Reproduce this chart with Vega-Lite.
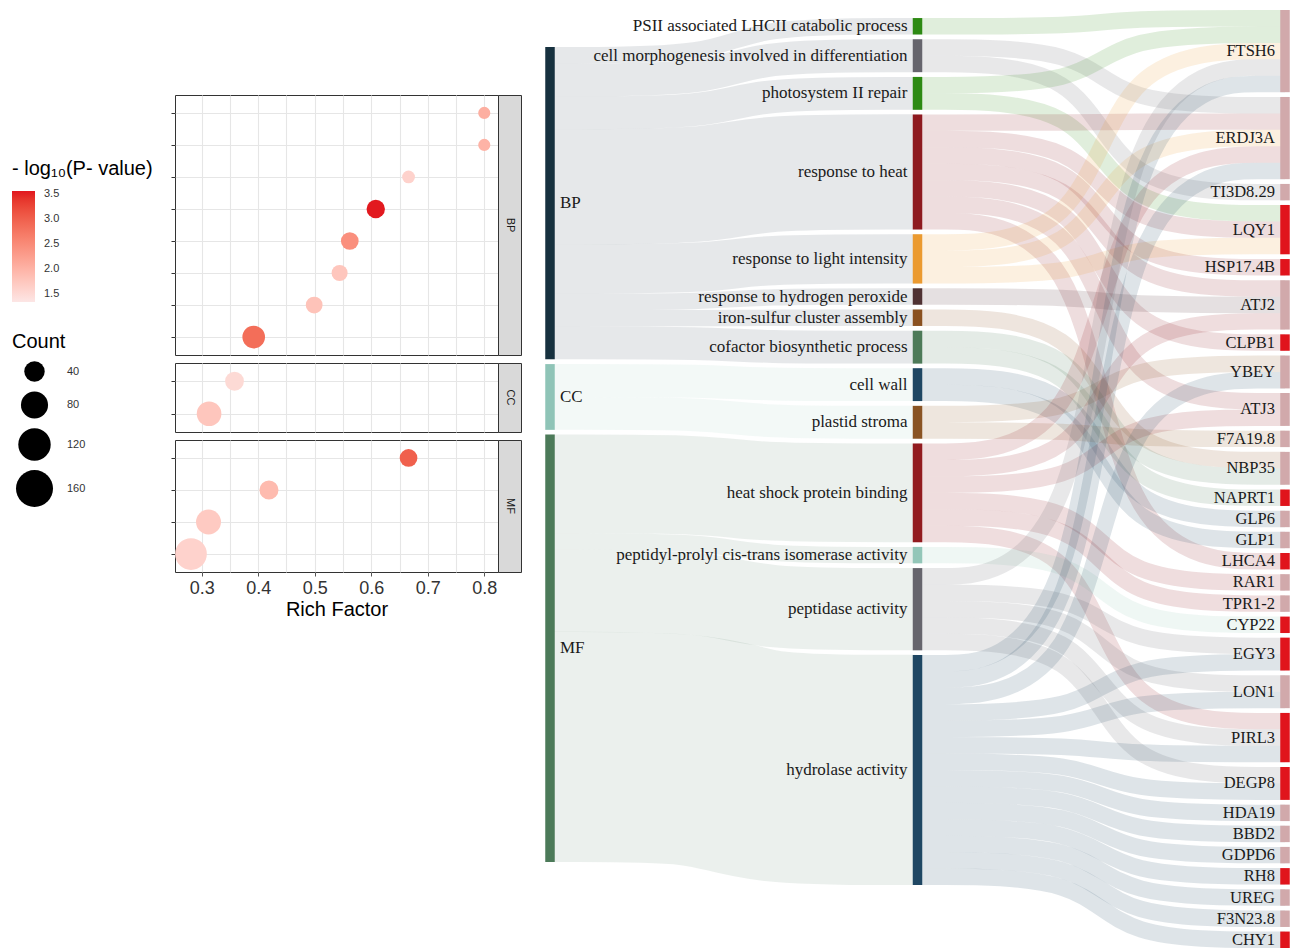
{
"$schema": "https://vega.github.io/schema/vega-lite/v6.json",
"padding": {"left": 12, "top": 10, "right": 0, "bottom": 0},
"background": "white",
"config": {"view": {"stroke": null}, "font": "Liberation Sans"},
"datasets": {
"dots": [
{"ont":"BP","term":"PSII associated LHCII catabolic process","rf":0.8,"lp":2.05,"count":6},
{"ont":"BP","term":"photosystem II repair","rf":0.8,"lp":2.0,"count":6},
{"ont":"BP","term":"iron-sulfur cluster assembly","rf":0.666,"lp":1.6,"count":8},
{"ont":"BP","term":"response to light intensity","rf":0.608,"lp":3.55,"count":30},
{"ont":"BP","term":"cell morphogenesis involved in differentiation","rf":0.562,"lp":2.45,"count":27},
{"ont":"BP","term":"response to hydrogen peroxide","rf":0.544,"lp":1.75,"count":20},
{"ont":"BP","term":"cofactor biosynthetic process","rf":0.499,"lp":1.8,"count":23},
{"ont":"BP","term":"response to heat","rf":0.392,"lp":2.85,"count":52},
{"ont":"CC","term":"plastid stroma","rf":0.358,"lp":1.5,"count":32},
{"ont":"CC","term":"cell wall","rf":0.313,"lp":1.75,"count":64},
{"ont":"MF","term":"peptidyl-prolyl cis-trans isomerase activity","rf":0.666,"lp":3.0,"count":27},
{"ont":"MF","term":"heat shock protein binding","rf":0.419,"lp":1.9,"count":33},
{"ont":"MF","term":"peptidase activity","rf":0.312,"lp":1.7,"count":66},
{"ont":"MF","term":"hydrolase activity","rf":0.281,"lp":1.6,"count":114}
],
"nodes": [
{"name":"BP","col":0,"y0":2.25,"y1":21.25,"c":"BP"},
{"name":"CC","col":0,"y0":21.54,"y1":25.54,"c":"CC"},
{"name":"MF","col":0,"y0":25.83,"y1":51.83,"c":"MF"},
{"name":"PSII associated LHCII catabolic process","col":1,"y0":0.49,"y1":1.49,"c":"psii"},
{"name":"cell morphogenesis involved in differentiation","col":1,"y0":1.78,"y1":3.78,"c":"morph"},
{"name":"photosystem II repair","col":1,"y0":4.07,"y1":6.07,"c":"rep"},
{"name":"response to heat","col":1,"y0":6.35,"y1":13.35,"c":"heat"},
{"name":"response to light intensity","col":1,"y0":13.64,"y1":16.64,"c":"light"},
{"name":"response to hydrogen peroxide","col":1,"y0":16.93,"y1":17.93,"c":"h2o2"},
{"name":"iron-sulfur cluster assembly","col":1,"y0":18.22,"y1":19.22,"c":"fes"},
{"name":"cofactor biosynthetic process","col":1,"y0":19.51,"y1":21.51,"c":"cof"},
{"name":"cell wall","col":1,"y0":21.79,"y1":23.79,"c":"wall"},
{"name":"plastid stroma","col":1,"y0":24.08,"y1":26.08,"c":"str"},
{"name":"heat shock protein binding","col":1,"y0":26.37,"y1":32.37,"c":"hsp"},
{"name":"peptidyl-prolyl cis-trans isomerase activity","col":1,"y0":32.66,"y1":33.66,"c":"ppi"},
{"name":"peptidase activity","col":1,"y0":33.95,"y1":38.95,"c":"pep"},
{"name":"hydrolase activity","col":1,"y0":39.23,"y1":53.23,"c":"hyd"},
{"name":"FTSH6","col":2,"y0":0,"y1":5,"c":"dn"},
{"name":"ERDJ3A","col":2,"y0":5.29,"y1":10.29,"c":"dn"},
{"name":"TI3D8.29","col":2,"y0":10.58,"y1":11.58,"c":"dn"},
{"name":"LQY1","col":2,"y0":11.86,"y1":14.86,"c":"up"},
{"name":"HSP17.4B","col":2,"y0":15.15,"y1":16.15,"c":"up"},
{"name":"ATJ2","col":2,"y0":16.44,"y1":19.44,"c":"dn"},
{"name":"CLPB1","col":2,"y0":19.73,"y1":20.73,"c":"up"},
{"name":"YBEY","col":2,"y0":21.02,"y1":23.02,"c":"dn"},
{"name":"ATJ3","col":2,"y0":23.3,"y1":25.3,"c":"dn"},
{"name":"F7A19.8","col":2,"y0":25.59,"y1":26.59,"c":"dn"},
{"name":"NBP35","col":2,"y0":26.88,"y1":28.88,"c":"dn"},
{"name":"NAPRT1","col":2,"y0":29.17,"y1":30.17,"c":"up"},
{"name":"GLP6","col":2,"y0":30.46,"y1":31.46,"c":"dn"},
{"name":"GLP1","col":2,"y0":31.74,"y1":32.74,"c":"dn"},
{"name":"LHCA4","col":2,"y0":33.03,"y1":34.03,"c":"up"},
{"name":"RAR1","col":2,"y0":34.32,"y1":35.32,"c":"dn"},
{"name":"TPR1-2","col":2,"y0":35.61,"y1":36.61,"c":"dn"},
{"name":"CYP22","col":2,"y0":36.9,"y1":37.9,"c":"up"},
{"name":"EGY3","col":2,"y0":38.18,"y1":40.18,"c":"up"},
{"name":"LON1","col":2,"y0":40.47,"y1":42.47,"c":"dn"},
{"name":"PIRL3","col":2,"y0":42.76,"y1":45.76,"c":"up"},
{"name":"DEGP8","col":2,"y0":46.05,"y1":48.05,"c":"up"},
{"name":"HDA19","col":2,"y0":48.34,"y1":49.34,"c":"dn"},
{"name":"BBD2","col":2,"y0":49.62,"y1":50.62,"c":"dn"},
{"name":"GDPD6","col":2,"y0":50.91,"y1":51.91,"c":"dn"},
{"name":"RH8","col":2,"y0":52.2,"y1":53.2,"c":"up"},
{"name":"UREG","col":2,"y0":53.49,"y1":54.49,"c":"dn"},
{"name":"F3N23.8","col":2,"y0":54.78,"y1":55.78,"c":"dn"},
{"name":"CHY1","col":2,"y0":56.06,"y1":57.06,"c":"up"}
],
"links": [
{"k":"a1","c":"BP","s":1,"w":1,"x":0,"y":2.75},{"k":"a1","c":"BP","s":1,"w":1,"x":0.45,"y":2.75},{"k":"a1","c":"BP","s":1,"w":1,"x":0.55,"y":0.99},{"k":"a1","c":"BP","s":1,"w":1,"x":1,"y":0.99},
{"k":"a2","c":"BP","s":1,"w":2,"x":0,"y":4.25},{"k":"a2","c":"BP","s":1,"w":2,"x":0.45,"y":4.25},{"k":"a2","c":"BP","s":1,"w":2,"x":0.55,"y":2.78},{"k":"a2","c":"BP","s":1,"w":2,"x":1,"y":2.78},
{"k":"a3","c":"BP","s":1,"w":2,"x":0,"y":6.25},{"k":"a3","c":"BP","s":1,"w":2,"x":0.45,"y":6.25},{"k":"a3","c":"BP","s":1,"w":2,"x":0.55,"y":5.07},{"k":"a3","c":"BP","s":1,"w":2,"x":1,"y":5.07},
{"k":"a4","c":"BP","s":1,"w":7,"x":0,"y":10.75},{"k":"a4","c":"BP","s":1,"w":7,"x":0.45,"y":10.75},{"k":"a4","c":"BP","s":1,"w":7,"x":0.55,"y":9.85},{"k":"a4","c":"BP","s":1,"w":7,"x":1,"y":9.85},
{"k":"a5","c":"BP","s":1,"w":3,"x":0,"y":15.75},{"k":"a5","c":"BP","s":1,"w":3,"x":0.45,"y":15.75},{"k":"a5","c":"BP","s":1,"w":3,"x":0.55,"y":15.14},{"k":"a5","c":"BP","s":1,"w":3,"x":1,"y":15.14},
{"k":"a6","c":"BP","s":1,"w":1,"x":0,"y":17.75},{"k":"a6","c":"BP","s":1,"w":1,"x":0.45,"y":17.75},{"k":"a6","c":"BP","s":1,"w":1,"x":0.55,"y":17.43},{"k":"a6","c":"BP","s":1,"w":1,"x":1,"y":17.43},
{"k":"a7","c":"BP","s":1,"w":1,"x":0,"y":18.75},{"k":"a7","c":"BP","s":1,"w":1,"x":0.45,"y":18.75},{"k":"a7","c":"BP","s":1,"w":1,"x":0.55,"y":18.72},{"k":"a7","c":"BP","s":1,"w":1,"x":1,"y":18.72},
{"k":"a8","c":"BP","s":1,"w":2,"x":0,"y":20.25},{"k":"a8","c":"BP","s":1,"w":2,"x":0.45,"y":20.25},{"k":"a8","c":"BP","s":1,"w":2,"x":0.55,"y":20.51},{"k":"a8","c":"BP","s":1,"w":2,"x":1,"y":20.51},
{"k":"a9","c":"CC","s":1,"w":2,"x":0,"y":22.54},{"k":"a9","c":"CC","s":1,"w":2,"x":0.45,"y":22.54},{"k":"a9","c":"CC","s":1,"w":2,"x":0.55,"y":22.79},{"k":"a9","c":"CC","s":1,"w":2,"x":1,"y":22.79},
{"k":"a10","c":"CC","s":1,"w":2,"x":0,"y":24.54},{"k":"a10","c":"CC","s":1,"w":2,"x":0.45,"y":24.54},{"k":"a10","c":"CC","s":1,"w":2,"x":0.55,"y":25.08},{"k":"a10","c":"CC","s":1,"w":2,"x":1,"y":25.08},
{"k":"a11","c":"MF","s":1,"w":6,"x":0,"y":28.83},{"k":"a11","c":"MF","s":1,"w":6,"x":0.45,"y":28.83},{"k":"a11","c":"MF","s":1,"w":6,"x":0.55,"y":29.37},{"k":"a11","c":"MF","s":1,"w":6,"x":1,"y":29.37},
{"k":"a12","c":"MF","s":1,"w":1,"x":0,"y":32.33},{"k":"a12","c":"MF","s":1,"w":1,"x":0.45,"y":32.33},{"k":"a12","c":"MF","s":1,"w":1,"x":0.55,"y":33.16},{"k":"a12","c":"MF","s":1,"w":1,"x":1,"y":33.16},
{"k":"a13","c":"MF","s":1,"w":5,"x":0,"y":35.33},{"k":"a13","c":"MF","s":1,"w":5,"x":0.45,"y":35.33},{"k":"a13","c":"MF","s":1,"w":5,"x":0.55,"y":36.45},{"k":"a13","c":"MF","s":1,"w":5,"x":1,"y":36.45},
{"k":"a14","c":"MF","s":1,"w":14,"x":0,"y":44.83},{"k":"a14","c":"MF","s":1,"w":14,"x":0.45,"y":44.83},{"k":"a14","c":"MF","s":1,"w":14,"x":0.55,"y":46.23},{"k":"a14","c":"MF","s":1,"w":14,"x":1,"y":46.23},
{"k":"b1","c":"psii","s":2,"w":1,"x":1,"y":0.99},{"k":"b1","c":"psii","s":2,"w":1,"x":1.45,"y":0.99},{"k":"b1","c":"psii","s":2,"w":1,"x":1.55,"y":0.5},{"k":"b1","c":"psii","s":2,"w":1,"x":2,"y":0.5},
{"k":"b2","c":"morph","s":2,"w":1,"x":1,"y":2.28},{"k":"b2","c":"morph","s":2,"w":1,"x":1.45,"y":2.28},{"k":"b2","c":"morph","s":2,"w":1,"x":1.55,"y":5.79},{"k":"b2","c":"morph","s":2,"w":1,"x":2,"y":5.79},
{"k":"b3","c":"morph","s":2,"w":1,"x":1,"y":3.28},{"k":"b3","c":"morph","s":2,"w":1,"x":1.45,"y":3.28},{"k":"b3","c":"morph","s":2,"w":1,"x":1.55,"y":11.08},{"k":"b3","c":"morph","s":2,"w":1,"x":2,"y":11.08},
{"k":"b4","c":"rep","s":2,"w":1,"x":1,"y":4.57},{"k":"b4","c":"rep","s":2,"w":1,"x":1.45,"y":4.57},{"k":"b4","c":"rep","s":2,"w":1,"x":1.55,"y":1.5},{"k":"b4","c":"rep","s":2,"w":1,"x":2,"y":1.5},
{"k":"b5","c":"rep","s":2,"w":1,"x":1,"y":5.57},{"k":"b5","c":"rep","s":2,"w":1,"x":1.45,"y":5.57},{"k":"b5","c":"rep","s":2,"w":1,"x":1.55,"y":12.36},{"k":"b5","c":"rep","s":2,"w":1,"x":2,"y":12.36},
{"k":"b6","c":"heat","s":2,"w":1,"x":1,"y":6.85},{"k":"b6","c":"heat","s":2,"w":1,"x":1.45,"y":6.85},{"k":"b6","c":"heat","s":2,"w":1,"x":1.55,"y":6.79},{"k":"b6","c":"heat","s":2,"w":1,"x":2,"y":6.79},
{"k":"b7","c":"heat","s":2,"w":1,"x":1,"y":7.85},{"k":"b7","c":"heat","s":2,"w":1,"x":1.45,"y":7.85},{"k":"b7","c":"heat","s":2,"w":1,"x":1.55,"y":13.36},{"k":"b7","c":"heat","s":2,"w":1,"x":2,"y":13.36},
{"k":"b8","c":"heat","s":2,"w":1,"x":1,"y":8.85},{"k":"b8","c":"heat","s":2,"w":1,"x":1.45,"y":8.85},{"k":"b8","c":"heat","s":2,"w":1,"x":1.55,"y":15.65},{"k":"b8","c":"heat","s":2,"w":1,"x":2,"y":15.65},
{"k":"b9","c":"heat","s":2,"w":1,"x":1,"y":9.85},{"k":"b9","c":"heat","s":2,"w":1,"x":1.45,"y":9.85},{"k":"b9","c":"heat","s":2,"w":1,"x":1.55,"y":16.94},{"k":"b9","c":"heat","s":2,"w":1,"x":2,"y":16.94},
{"k":"b10","c":"heat","s":2,"w":1,"x":1,"y":10.85},{"k":"b10","c":"heat","s":2,"w":1,"x":1.45,"y":10.85},{"k":"b10","c":"heat","s":2,"w":1,"x":1.55,"y":20.23},{"k":"b10","c":"heat","s":2,"w":1,"x":2,"y":20.23},
{"k":"b11","c":"heat","s":2,"w":1,"x":1,"y":11.85},{"k":"b11","c":"heat","s":2,"w":1,"x":1.45,"y":11.85},{"k":"b11","c":"heat","s":2,"w":1,"x":1.55,"y":23.8},{"k":"b11","c":"heat","s":2,"w":1,"x":2,"y":23.8},
{"k":"b12","c":"heat","s":2,"w":1,"x":1,"y":12.85},{"k":"b12","c":"heat","s":2,"w":1,"x":1.45,"y":12.85},{"k":"b12","c":"heat","s":2,"w":1,"x":1.55,"y":33.53},{"k":"b12","c":"heat","s":2,"w":1,"x":2,"y":33.53},
{"k":"b13","c":"light","s":2,"w":1,"x":1,"y":14.14},{"k":"b13","c":"light","s":2,"w":1,"x":1.45,"y":14.14},{"k":"b13","c":"light","s":2,"w":1,"x":1.55,"y":2.5},{"k":"b13","c":"light","s":2,"w":1,"x":2,"y":2.5},
{"k":"b14","c":"light","s":2,"w":1,"x":1,"y":15.14},{"k":"b14","c":"light","s":2,"w":1,"x":1.45,"y":15.14},{"k":"b14","c":"light","s":2,"w":1,"x":1.55,"y":7.79},{"k":"b14","c":"light","s":2,"w":1,"x":2,"y":7.79},
{"k":"b15","c":"light","s":2,"w":1,"x":1,"y":16.14},{"k":"b15","c":"light","s":2,"w":1,"x":1.45,"y":16.14},{"k":"b15","c":"light","s":2,"w":1,"x":1.55,"y":14.36},{"k":"b15","c":"light","s":2,"w":1,"x":2,"y":14.36},
{"k":"b16","c":"h2o2","s":2,"w":1,"x":1,"y":17.43},{"k":"b16","c":"h2o2","s":2,"w":1,"x":1.45,"y":17.43},{"k":"b16","c":"h2o2","s":2,"w":1,"x":1.55,"y":17.94},{"k":"b16","c":"h2o2","s":2,"w":1,"x":2,"y":17.94},
{"k":"b17","c":"fes","s":2,"w":1,"x":1,"y":18.72},{"k":"b17","c":"fes","s":2,"w":1,"x":1.45,"y":18.72},{"k":"b17","c":"fes","s":2,"w":1,"x":1.55,"y":27.38},{"k":"b17","c":"fes","s":2,"w":1,"x":2,"y":27.38},
{"k":"b18","c":"cof","s":2,"w":1,"x":1,"y":20.01},{"k":"b18","c":"cof","s":2,"w":1,"x":1.45,"y":20.01},{"k":"b18","c":"cof","s":2,"w":1,"x":1.55,"y":28.38},{"k":"b18","c":"cof","s":2,"w":1,"x":2,"y":28.38},
{"k":"b19","c":"cof","s":2,"w":1,"x":1,"y":21.01},{"k":"b19","c":"cof","s":2,"w":1,"x":1.45,"y":21.01},{"k":"b19","c":"cof","s":2,"w":1,"x":1.55,"y":29.67},{"k":"b19","c":"cof","s":2,"w":1,"x":2,"y":29.67},
{"k":"b20","c":"wall","s":2,"w":1,"x":1,"y":22.29},{"k":"b20","c":"wall","s":2,"w":1,"x":1.45,"y":22.29},{"k":"b20","c":"wall","s":2,"w":1,"x":1.55,"y":30.96},{"k":"b20","c":"wall","s":2,"w":1,"x":2,"y":30.96},
{"k":"b21","c":"wall","s":2,"w":1,"x":1,"y":23.29},{"k":"b21","c":"wall","s":2,"w":1,"x":1.45,"y":23.29},{"k":"b21","c":"wall","s":2,"w":1,"x":1.55,"y":32.24},{"k":"b21","c":"wall","s":2,"w":1,"x":2,"y":32.24},
{"k":"b22","c":"str","s":2,"w":1,"x":1,"y":24.58},{"k":"b22","c":"str","s":2,"w":1,"x":1.45,"y":24.58},{"k":"b22","c":"str","s":2,"w":1,"x":1.55,"y":21.52},{"k":"b22","c":"str","s":2,"w":1,"x":2,"y":21.52},
{"k":"b23","c":"str","s":2,"w":1,"x":1,"y":25.58},{"k":"b23","c":"str","s":2,"w":1,"x":1.45,"y":25.58},{"k":"b23","c":"str","s":2,"w":1,"x":1.55,"y":26.09},{"k":"b23","c":"str","s":2,"w":1,"x":2,"y":26.09},
{"k":"b24","c":"hsp","s":2,"w":1,"x":1,"y":26.87},{"k":"b24","c":"hsp","s":2,"w":1,"x":1.45,"y":26.87},{"k":"b24","c":"hsp","s":2,"w":1,"x":1.55,"y":8.79},{"k":"b24","c":"hsp","s":2,"w":1,"x":2,"y":8.79},
{"k":"b25","c":"hsp","s":2,"w":1,"x":1,"y":27.87},{"k":"b25","c":"hsp","s":2,"w":1,"x":1.45,"y":27.87},{"k":"b25","c":"hsp","s":2,"w":1,"x":1.55,"y":18.94},{"k":"b25","c":"hsp","s":2,"w":1,"x":2,"y":18.94},
{"k":"b26","c":"hsp","s":2,"w":1,"x":1,"y":28.87},{"k":"b26","c":"hsp","s":2,"w":1,"x":1.45,"y":28.87},{"k":"b26","c":"hsp","s":2,"w":1,"x":1.55,"y":24.8},{"k":"b26","c":"hsp","s":2,"w":1,"x":2,"y":24.8},
{"k":"b27","c":"hsp","s":2,"w":1,"x":1,"y":29.87},{"k":"b27","c":"hsp","s":2,"w":1,"x":1.45,"y":29.87},{"k":"b27","c":"hsp","s":2,"w":1,"x":1.55,"y":34.82},{"k":"b27","c":"hsp","s":2,"w":1,"x":2,"y":34.82},
{"k":"b28","c":"hsp","s":2,"w":1,"x":1,"y":30.87},{"k":"b28","c":"hsp","s":2,"w":1,"x":1.45,"y":30.87},{"k":"b28","c":"hsp","s":2,"w":1,"x":1.55,"y":36.11},{"k":"b28","c":"hsp","s":2,"w":1,"x":2,"y":36.11},
{"k":"b29","c":"hsp","s":2,"w":1,"x":1,"y":31.87},{"k":"b29","c":"hsp","s":2,"w":1,"x":1.45,"y":31.87},{"k":"b29","c":"hsp","s":2,"w":1,"x":1.55,"y":43.26},{"k":"b29","c":"hsp","s":2,"w":1,"x":2,"y":43.26},
{"k":"b30","c":"ppi","s":2,"w":1,"x":1,"y":33.16},{"k":"b30","c":"ppi","s":2,"w":1,"x":1.45,"y":33.16},{"k":"b30","c":"ppi","s":2,"w":1,"x":1.55,"y":37.4},{"k":"b30","c":"ppi","s":2,"w":1,"x":2,"y":37.4},
{"k":"b31","c":"pep","s":2,"w":1,"x":1,"y":34.45},{"k":"b31","c":"pep","s":2,"w":1,"x":1.45,"y":34.45},{"k":"b31","c":"pep","s":2,"w":1,"x":1.55,"y":3.5},{"k":"b31","c":"pep","s":2,"w":1,"x":2,"y":3.5},
{"k":"b32","c":"pep","s":2,"w":1,"x":1,"y":35.45},{"k":"b32","c":"pep","s":2,"w":1,"x":1.45,"y":35.45},{"k":"b32","c":"pep","s":2,"w":1,"x":1.55,"y":38.68},{"k":"b32","c":"pep","s":2,"w":1,"x":2,"y":38.68},
{"k":"b33","c":"pep","s":2,"w":1,"x":1,"y":36.45},{"k":"b33","c":"pep","s":2,"w":1,"x":1.45,"y":36.45},{"k":"b33","c":"pep","s":2,"w":1,"x":1.55,"y":40.97},{"k":"b33","c":"pep","s":2,"w":1,"x":2,"y":40.97},
{"k":"b34","c":"pep","s":2,"w":1,"x":1,"y":37.45},{"k":"b34","c":"pep","s":2,"w":1,"x":1.45,"y":37.45},{"k":"b34","c":"pep","s":2,"w":1,"x":1.55,"y":44.26},{"k":"b34","c":"pep","s":2,"w":1,"x":2,"y":44.26},
{"k":"b35","c":"pep","s":2,"w":1,"x":1,"y":38.45},{"k":"b35","c":"pep","s":2,"w":1,"x":1.45,"y":38.45},{"k":"b35","c":"pep","s":2,"w":1,"x":1.55,"y":46.55},{"k":"b35","c":"pep","s":2,"w":1,"x":2,"y":46.55},
{"k":"b36","c":"hyd","s":2,"w":1,"x":1,"y":39.73},{"k":"b36","c":"hyd","s":2,"w":1,"x":1.45,"y":39.73},{"k":"b36","c":"hyd","s":2,"w":1,"x":1.55,"y":4.5},{"k":"b36","c":"hyd","s":2,"w":1,"x":2,"y":4.5},
{"k":"b37","c":"hyd","s":2,"w":1,"x":1,"y":40.73},{"k":"b37","c":"hyd","s":2,"w":1,"x":1.45,"y":40.73},{"k":"b37","c":"hyd","s":2,"w":1,"x":1.55,"y":9.79},{"k":"b37","c":"hyd","s":2,"w":1,"x":2,"y":9.79},
{"k":"b38","c":"hyd","s":2,"w":1,"x":1,"y":41.73},{"k":"b38","c":"hyd","s":2,"w":1,"x":1.45,"y":41.73},{"k":"b38","c":"hyd","s":2,"w":1,"x":1.55,"y":22.52},{"k":"b38","c":"hyd","s":2,"w":1,"x":2,"y":22.52},
{"k":"b39","c":"hyd","s":2,"w":1,"x":1,"y":42.73},{"k":"b39","c":"hyd","s":2,"w":1,"x":1.45,"y":42.73},{"k":"b39","c":"hyd","s":2,"w":1,"x":1.55,"y":39.68},{"k":"b39","c":"hyd","s":2,"w":1,"x":2,"y":39.68},
{"k":"b40","c":"hyd","s":2,"w":1,"x":1,"y":43.73},{"k":"b40","c":"hyd","s":2,"w":1,"x":1.45,"y":43.73},{"k":"b40","c":"hyd","s":2,"w":1,"x":1.55,"y":41.97},{"k":"b40","c":"hyd","s":2,"w":1,"x":2,"y":41.97},
{"k":"b41","c":"hyd","s":2,"w":1,"x":1,"y":44.73},{"k":"b41","c":"hyd","s":2,"w":1,"x":1.45,"y":44.73},{"k":"b41","c":"hyd","s":2,"w":1,"x":1.55,"y":45.26},{"k":"b41","c":"hyd","s":2,"w":1,"x":2,"y":45.26},
{"k":"b42","c":"hyd","s":2,"w":1,"x":1,"y":45.73},{"k":"b42","c":"hyd","s":2,"w":1,"x":1.45,"y":45.73},{"k":"b42","c":"hyd","s":2,"w":1,"x":1.55,"y":47.55},{"k":"b42","c":"hyd","s":2,"w":1,"x":2,"y":47.55},
{"k":"b43","c":"hyd","s":2,"w":1,"x":1,"y":46.73},{"k":"b43","c":"hyd","s":2,"w":1,"x":1.45,"y":46.73},{"k":"b43","c":"hyd","s":2,"w":1,"x":1.55,"y":48.84},{"k":"b43","c":"hyd","s":2,"w":1,"x":2,"y":48.84},
{"k":"b44","c":"hyd","s":2,"w":1,"x":1,"y":47.73},{"k":"b44","c":"hyd","s":2,"w":1,"x":1.45,"y":47.73},{"k":"b44","c":"hyd","s":2,"w":1,"x":1.55,"y":50.12},{"k":"b44","c":"hyd","s":2,"w":1,"x":2,"y":50.12},
{"k":"b45","c":"hyd","s":2,"w":1,"x":1,"y":48.73},{"k":"b45","c":"hyd","s":2,"w":1,"x":1.45,"y":48.73},{"k":"b45","c":"hyd","s":2,"w":1,"x":1.55,"y":51.41},{"k":"b45","c":"hyd","s":2,"w":1,"x":2,"y":51.41},
{"k":"b46","c":"hyd","s":2,"w":1,"x":1,"y":49.73},{"k":"b46","c":"hyd","s":2,"w":1,"x":1.45,"y":49.73},{"k":"b46","c":"hyd","s":2,"w":1,"x":1.55,"y":52.7},{"k":"b46","c":"hyd","s":2,"w":1,"x":2,"y":52.7},
{"k":"b47","c":"hyd","s":2,"w":1,"x":1,"y":50.73},{"k":"b47","c":"hyd","s":2,"w":1,"x":1.45,"y":50.73},{"k":"b47","c":"hyd","s":2,"w":1,"x":1.55,"y":53.99},{"k":"b47","c":"hyd","s":2,"w":1,"x":2,"y":53.99},
{"k":"b48","c":"hyd","s":2,"w":1,"x":1,"y":51.73},{"k":"b48","c":"hyd","s":2,"w":1,"x":1.45,"y":51.73},{"k":"b48","c":"hyd","s":2,"w":1,"x":1.55,"y":55.28},{"k":"b48","c":"hyd","s":2,"w":1,"x":2,"y":55.28},
{"k":"b49","c":"hyd","s":2,"w":1,"x":1,"y":52.73},{"k":"b49","c":"hyd","s":2,"w":1,"x":1.45,"y":52.73},{"k":"b49","c":"hyd","s":2,"w":1,"x":1.55,"y":56.56},{"k":"b49","c":"hyd","s":2,"w":1,"x":2,"y":56.56}
]
},
"hconcat": [
{
"vconcat": [
{"width": 323, "height": 78, "data": {"values": []}, "mark": "point"},
{"hconcat": [
{"width": 323, "height": 260, "view": {"stroke": "#333333", "fill": "white"},
"data": {"name": "dots"}, "transform": [{"filter": "datum.ont === 'BP'"}],
"mark": {"type": "circle", "opacity": 1},
"encoding": {
"x": {"field": "rf", "type": "quantitative", "scale": {"domain": [0.2527, 0.8243], "nice": false, "zero": false},
"axis": {"values": [0.3,0.35,0.4,0.45,0.5,0.55,0.6,0.65,0.7,0.75,0.8], "labels": false, "ticks": false, "domain": false, "title": null, "grid": true, "gridColor": "#e6e6e6", "gridWidth": 1.1}},
"y": {"field": "term", "type": "nominal", "sort": ["PSII associated LHCII catabolic process","photosystem II repair","iron-sulfur cluster assembly","response to light intensity","cell morphogenesis involved in differentiation","response to hydrogen peroxide","cofactor biosynthetic process","response to heat"],
"scale": {"type": "point", "padding": 0.56},
"axis": {"labels": false, "title": null, "domain": false, "tickSize": 4, "tickColor": "#333333", "grid": true, "gridColor": "#e6e6e6", "gridWidth": 1.1}},
"size": {"field": "count", "type": "quantitative", "scale": {"domain": [0, 160], "range": [100, 1369]},
"legend": {"orient": "none", "legendX": -163, "legendY": 322, "title": "Count", "titleFontSize": 20, "titleFontWeight": "normal", "titleColor": "black", "titleFont": "Liberation Sans", "titlePadding": 9, "values": [40, 80, 120, 160], "symbolFillColor": "black", "symbolStrokeWidth": 0, "symbolOpacity": 1, "labelFontSize": 11, "labelColor": "#333333", "labelOffset": 14, "rowPadding": 9, "symbolOffset": 4}},
"color": {"field": "lp", "type": "quantitative", "scale": {"domain": [1.34, 3.56], "range": ["#fce6e5", "#e2161e"], "interpolate": "lab"},
"legend": {"orient": "none", "legendX": -163, "legendY": 149, "title": "- log₁₀(P- value)", "titleFontSize": 20, "titleFontWeight": "normal", "titleColor": "black", "titleFont": "Liberation Sans", "titlePadding": 12, "values": [1.5, 2, 2.5, 3, 3.5], "format": ".1f", "gradientLength": 111, "gradientThickness": 23, "gradientStrokeWidth": 0, "labelFontSize": 11, "labelColor": "#333333", "labelOffset": 9}}
}},
{"width": 23, "height": 260, "view": {"stroke": "#333333", "fill": "#d9d9d9"}, "data": {"values": [{"lab": "BP"}]},
"mark": {"type": "text", "angle": 90, "fontSize": 11, "color": "#1a1a1a", "font": "Liberation Sans"},
"encoding": {"text": {"field": "lab"}}}
], "spacing": 0, "bounds": "flush"},
{"hconcat": [
{"width": 323, "height": 69, "view": {"stroke": "#333333", "fill": "white"},
"data": {"name": "dots"}, "transform": [{"filter": "datum.ont === 'CC'"}],
"mark": {"type": "circle", "opacity": 1},
"encoding": {
"x": {"field": "rf", "type": "quantitative", "scale": {"domain": [0.2527, 0.8243], "nice": false, "zero": false},
"axis": {"values": [0.3,0.35,0.4,0.45,0.5,0.55,0.6,0.65,0.7,0.75,0.8], "labels": false, "ticks": false, "domain": false, "title": null, "grid": true, "gridColor": "#e6e6e6", "gridWidth": 1.1}},
"y": {"field": "term", "type": "nominal", "sort": ["plastid stroma","cell wall"],
"scale": {"type": "point", "padding": 0.56},
"axis": {"labels": false, "title": null, "domain": false, "tickSize": 4, "tickColor": "#333333", "grid": true, "gridColor": "#e6e6e6", "gridWidth": 1.1}},
"size": {"field": "count", "type": "quantitative", "scale": {"domain": [0, 160], "range": [100, 1369]}},
"color": {"field": "lp", "type": "quantitative", "scale": {"domain": [1.34, 3.56], "range": ["#fce6e5", "#e2161e"], "interpolate": "lab"}}
}},
{"width": 23, "height": 69, "view": {"stroke": "#333333", "fill": "#d9d9d9"}, "data": {"values": [{"lab": "CC"}]},
"mark": {"type": "text", "angle": 90, "fontSize": 11, "color": "#1a1a1a", "font": "Liberation Sans"},
"encoding": {"text": {"field": "lab"}}}
], "spacing": 0, "bounds": "flush"},
{"hconcat": [
{"width": 323, "height": 132, "view": {"stroke": "#333333", "fill": "white"},
"data": {"name": "dots"}, "transform": [{"filter": "datum.ont === 'MF'"}],
"mark": {"type": "circle", "opacity": 1},
"encoding": {
"x": {"field": "rf", "type": "quantitative", "scale": {"domain": [0.2527, 0.8243], "nice": false, "zero": false},
"axis": {"values": [0.3,0.35,0.4,0.45,0.5,0.55,0.6,0.65,0.7,0.75,0.8], "labelExpr": "round(datum.value*100) % 10 === 0 ? format(datum.value, '.1f') : ''", "labelFontSize": 18, "labelColor": "#333333", "labelPadding": 3, "tickSize": 4, "tickColor": "#555555", "tickOpacity": {"condition": {"test": "round(datum.value*100) % 10 === 0", "value": 1}, "value": 0}, "domain": false, "title": "Rich Factor", "titleFontSize": 20, "titleFontWeight": "normal", "titleColor": "black", "titlePadding": 2, "grid": true, "gridColor": "#e6e6e6", "gridWidth": 1.1, "labelFlush": false, "labelOverlap": false}},
"y": {"field": "term", "type": "nominal", "sort": ["peptidyl-prolyl cis-trans isomerase activity","heat shock protein binding","peptidase activity","hydrolase activity"],
"scale": {"type": "point", "padding": 0.56},
"axis": {"labels": false, "title": null, "domain": false, "tickSize": 4, "tickColor": "#333333", "grid": true, "gridColor": "#e6e6e6", "gridWidth": 1.1}},
"size": {"field": "count", "type": "quantitative", "scale": {"domain": [0, 160], "range": [100, 1369]}},
"color": {"field": "lp", "type": "quantitative", "scale": {"domain": [1.34, 3.56], "range": ["#fce6e5", "#e2161e"], "interpolate": "lab"}}
}},
{"width": 23, "height": 132, "view": {"stroke": "#333333", "fill": "#d9d9d9"}, "data": {"values": [{"lab": "MF"}]},
"mark": {"type": "text", "angle": 90, "fontSize": 11, "color": "#1a1a1a", "font": "Liberation Sans"},
"encoding": {"text": {"field": "lab"}}}
], "spacing": 0, "bounds": "flush"}
],
"spacing": 6,
"resolve": {"scale": {"y": "independent"}}
},
{
"width": 735, "height": 938,
"layer": [
{"data": {"name": "links"}, "transform": [{"filter": "datum.s === 1"}],
"mark": {"type": "line", "interpolate": "basis", "strokeOpacity": 0.11, "strokeCap": "butt", "strokeJoin": "round", "clip": true},
"encoding": {
"x": {"field": "x", "type": "quantitative", "scale": {"domain": [0, 2], "nice": false, "zero": false, "padding": 0}, "axis": null},
"y": {"field": "y", "type": "quantitative", "scale": {"domain": [0, 57.06], "reverse": true, "nice": false, "zero": false, "padding": 0}, "axis": null},
"detail": {"field": "k", "type": "nominal"},
"strokeWidth": {"field": "w", "type": "quantitative", "scale": {"domain": [0, 14], "range": [0, 230.2]}, "legend": null},
"color": {"field": "c", "type": "nominal", "legend": null,
"scale": {"domain": ["BP","CC","MF","psii","morph","rep","heat","light","h2o2","fes","cof","wall","str","hsp","ppi","pep","hyd","up","dn"],
"range": ["#17313f","#8fc4b7","#4c7a59","#2d8a13","#66656d","#2d8a13","#8e1a1f","#eb9a30","#4f3233","#8a5120","#4d7a58","#1f4763","#8a5424","#921b1f","#93c6b8","#66656d","#1f4763","#e0141c","#d1a9ab"]}}
}},
{"data": {"name": "links"}, "transform": [{"filter": "datum.s === 2"}],
"mark": {"type": "line", "interpolate": "basis", "strokeOpacity": 0.15, "strokeCap": "butt", "strokeJoin": "round", "clip": true},
"encoding": {
"x": {"field": "x", "type": "quantitative"},
"y": {"field": "y", "type": "quantitative"},
"detail": {"field": "k", "type": "nominal"},
"strokeWidth": {"field": "w", "type": "quantitative", "legend": null},
"color": {"field": "c", "type": "nominal", "legend": null}
}},
{"data": {"name": "nodes"},
"mark": {"type": "bar", "width": 9.5},
"encoding": {
"x": {"field": "col", "type": "quantitative"},
"y": {"field": "y0", "type": "quantitative", "stack": null},
"y2": {"field": "y1"},
"color": {"field": "c", "type": "nominal", "legend": null}
}},
{"data": {"name": "nodes"}, "transform": [{"filter": "datum.col === 0"}, {"fold": ["y0", "y1"], "as": ["kk", "v"]}],
"mark": {"type": "text", "align": "left", "baseline": "middle", "dx": 10, "font": "Liberation Serif", "fontSize": 17, "color": "#1a1a1a"},
"encoding": {
"x": {"field": "col", "type": "quantitative"},
"y": {"field": "v", "type": "quantitative", "aggregate": "mean"},
"text": {"field": "name", "type": "nominal"}
}},
{"data": {"name": "nodes"}, "transform": [{"filter": "datum.col === 1"}, {"fold": ["y0", "y1"], "as": ["kk", "v"]}],
"mark": {"type": "text", "align": "right", "baseline": "middle", "dx": -10, "font": "Liberation Serif", "fontSize": 17, "color": "#1a1a1a"},
"encoding": {
"x": {"field": "col", "type": "quantitative"},
"y": {"field": "v", "type": "quantitative", "aggregate": "mean"},
"text": {"field": "name", "type": "nominal"}
}},
{"data": {"name": "nodes"}, "transform": [{"filter": "datum.col === 2"}, {"fold": ["y0", "y1"], "as": ["kk", "v"]}],
"mark": {"type": "text", "align": "right", "baseline": "middle", "dx": -10, "font": "Liberation Serif", "fontSize": 16.5, "color": "#1a1a1a"},
"encoding": {
"x": {"field": "col", "type": "quantitative"},
"y": {"field": "v", "type": "quantitative", "aggregate": "mean"},
"text": {"field": "name", "type": "nominal"}
}}
]
}
],
"spacing": 23,
"resolve": {"scale": {"x": "independent", "y": "independent", "color": "independent", "size": "independent"}, "legend": {"color": "independent", "size": "independent"}}
}
